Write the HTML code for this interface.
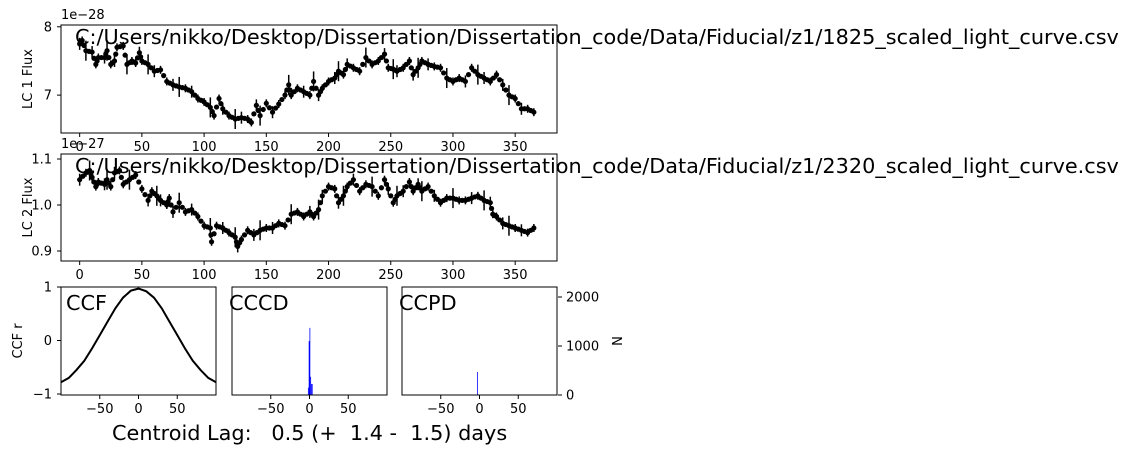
<!DOCTYPE html>
<html><head><meta charset="utf-8">
<style>
html,body{margin:0;padding:0;background:#fff;}
svg{display:block;font-family:"DejaVu Sans","Liberation Sans",sans-serif;}
</style></head>
<body>
<svg id="chart" width="1128" height="454" viewBox="0 0 1128 454" xmlns="http://www.w3.org/2000/svg"></svg>
<script>
// ---- data ----
const lc1Days = [0,2,5,10,13,15,20,22,25,28,30,35,38,42,45,48,50,55,60,65,70,75,80,85,90,95,100,105,108,112,115,120,125,130,135,138,142,145,150,155,160,165,168,170,175,180,185,188,192,195,200,205,208,212,215,220,225,230,235,240,245,248,252,255,260,265,268,272,275,280,285,290,295,300,305,310,315,320,325,330,335,340,345,350,355,360,365];
const lc1Flux = [7.75,7.8,7.65,7.63,7.45,7.55,7.55,7.65,7.45,7.5,7.7,7.72,7.45,7.5,7.47,7.62,7.5,7.45,7.35,7.37,7.2,7.15,7.12,7.1,7.05,6.95,6.9,6.82,6.7,6.95,6.8,6.7,6.65,6.67,6.65,6.6,6.85,6.7,6.88,6.75,6.87,7.0,7.15,7.0,7.1,7.05,7.0,7.2,7.0,7.1,7.2,7.25,7.35,7.3,7.45,7.4,7.35,7.55,7.45,7.5,7.6,7.4,7.38,7.35,7.4,7.5,7.3,7.4,7.5,7.45,7.42,7.4,7.25,7.2,7.25,7.2,7.4,7.3,7.25,7.2,7.3,7.15,7.0,6.95,6.8,6.8,6.75];
const lc2Days = [0,5,8,10,13,15,20,22,25,28,32,35,40,45,50,55,58,62,65,70,72,75,80,85,90,95,100,105,106,110,115,120,125,127,130,135,140,145,150,155,160,165,170,175,180,185,188,192,195,200,205,208,212,215,220,225,230,235,240,245,248,252,255,260,265,268,272,275,280,285,290,295,300,305,310,315,320,325,330,332,335,340,345,350,355,360,365];
const lc2Flux = [1.055,1.07,1.075,1.06,1.04,1.05,1.045,1.055,1.04,1.07,1.075,1.045,1.055,1.065,1.035,1.01,1.03,1.02,1.01,1.0,1.015,0.985,1.005,0.985,0.99,0.975,0.955,0.95,0.92,0.955,0.95,0.94,0.93,0.91,0.925,0.945,0.935,0.945,0.95,0.95,0.96,0.955,0.98,0.985,0.975,0.985,0.975,0.99,1.02,1.04,1.035,1.005,1.02,1.04,1.055,1.03,1.045,1.04,1.02,1.055,1.035,1.005,1.02,1.03,1.05,1.03,1.045,1.03,1.04,1.02,1.005,1.015,1.015,1.01,1.01,1.015,1.02,1.01,1.005,0.98,0.975,0.96,0.955,0.95,0.945,0.94,0.95];
const ccfLags = [-100,-90,-80,-70,-60,-50,-40,-30,-20,-10,0,10,20,30,40,50,60,70,80,90,100];
const ccfR = [-0.78,-0.7,-0.55,-0.38,-0.15,0.1,0.35,0.6,0.8,0.93,0.97,0.92,0.8,0.6,0.35,0.1,-0.15,-0.38,-0.55,-0.7,-0.78];
const cccdBins = [-2,-1,0,1,2,3];
const cccdCounts = [150,1100,1370,370,225,225];
const ccpdBins = [-3];
const ccpdCounts = [470];
const lcTicks = [0,50,100,150,200,250,300,350];
const lagTicks = [-50,0,50];

const svg = document.getElementById('chart');
const NS = 'http://www.w3.org/2000/svg';
function mk(tag, attrs, parent){ const e=document.createElementNS(NS,tag); for(const k in attrs) e.setAttribute(k,attrs[k]); (parent||svg).appendChild(e); return e; }
function txt(s, attrs, parent){ const e=mk('text',attrs,parent); e.textContent=s; return e; }
function lin(d0,d1,r0,r1){ return v => r0 + (v-d0)/(d1-d0)*(r1-r0); }

const lcX = lin(-15.0, 383.6, 61, 557);
function lcPanel(name, days, flux, top, bot, y, yticks, fmt, ylab, expo, path){
  const g = mk('g',{});
  
  
  mk('rect',{x:61,y:top,width:496,height:bot-top,fill:'#fff'},g);
  days.forEach((d,i)=>{
    const cx=lcX(d), cy=y(flux[i]);
    const err = (i%5===2)?10:(i%3===0?6:4);
    const eb = mk('line',{x1:cx,x2:cx,y1:cy-err,y2:cy+err,stroke:'#000','stroke-width':1.5},g);
    
    
    const p = mk('circle',{cx:cx,cy:cy,r:2.6,fill:'#000'},g);
    
    
    if(i<days.length-1){
      const nx=lcX(days[i+1]), ny=y(flux[i+1]);
      mk('circle',{cx:(cx+nx)/2,cy:(cy+ny)/2,r:2.6,fill:'#000'},g);
    }
  });
  mk('rect',{x:61,y:top,width:496,height:bot-top,fill:'none',stroke:'#000','stroke-width':1},g);
  yticks.forEach(t=>{
    const yy=y(t);
    mk('line',{x1:57,x2:61,y1:yy,y2:yy,stroke:'#000'},g);
    txt(fmt(t),{x:52,y:yy+4.5,'text-anchor':'end','font-size':13},g);
  });
  lcTicks.forEach(t=>{
    const xx=lcX(t);
    mk('line',{x1:xx,x2:xx,y1:bot,y2:bot+4,stroke:'#000'},g);
    txt(String(t),{x:xx,y:bot+18,'text-anchor':'middle','font-size':13},g);
  });
  const yl = txt(ylab,{x:0,y:0,'text-anchor':'middle','font-size':13,transform:`translate(32,${(top+bot)/2}) rotate(-90)`},g);
  
  
  txt(expo,{x:61,y:top-6,'font-size':13},g);
  const pt = txt(path,{x:75,y:top+19,'font-size':20.8},g);
  
  
}
lcPanel('lc1-panel', lc1Days, lc1Flux, 25, 133, lin(6.4455,8.0,133,26.8), [7,8], t=>String(t), 'LC 1 Flux', '1e\u221228',
  'C:/Users/nikko/Desktop/Dissertation/Dissertation_code/Data/Fiducial/z1/1825_scaled_light_curve.csv');
lcPanel('lc2-panel', lc2Days, lc2Flux, 154, 261, lin(0.9,1.1,251,159), [0.9,1.0,1.1], t=>t.toFixed(1), 'LC 2 Flux', '1e\u221227',
  'C:/Users/nikko/Desktop/Dissertation/Dissertation_code/Data/Fiducial/z1/2320_scaled_light_curve.csv');

const bTop=287, bBot=395;
function lagPanel(name, x0){
  const g = mk('g',{});
  
  
  mk('rect',{x:x0,y:bTop,width:155,height:bBot-bTop,fill:'#fff'},g);
  const x = lin(-100,100,x0,x0+155);
  return {g,x};
}
{
  const {g,x} = lagPanel('ccf-panel',61);
  const y = lin(-1,1,394,287);
  const d = ccfLags.map((l,i)=>(i?'L':'M')+x(l).toFixed(1)+','+y(ccfR[i]).toFixed(1)).join(' ');
  const p = mk('path',{d:d,fill:'none',stroke:'#000','stroke-width':2},g);
  
  
  [-1,0,1].forEach(t=>{ const yy=y(t); mk('line',{x1:57,x2:61,y1:yy,y2:yy,stroke:'#000'},g);
    txt(t<0?'\u22121':String(t),{x:52,y:yy+4.5,'text-anchor':'end','font-size':13},g); });
  lagTicks.forEach(t=>{ const xx=x(t); mk('line',{x1:xx,x2:xx,y1:bBot,y2:bBot+4,stroke:'#000'},g);
    txt(t<0?'\u2212'+(-t):String(t),{x:xx,y:bBot+18,'text-anchor':'middle','font-size':13},g); });
  mk('rect',{x:61,y:bTop,width:155,height:bBot-bTop,fill:'none',stroke:'#000'},g);
  txt('CCF',{x:66,y:310,'font-size':20.8},g);
  txt('CCF r',{x:0,y:0,'text-anchor':'middle','font-size':13,transform:'translate(22,341) rotate(-90)'},g);
}
const nY = lin(0,2000,395,297);
function histPanel(name,x0,title,bins,counts){
  const {g,x} = lagPanel(name,x0);
  bins.forEach((b,i)=>{
    const r = mk('rect',{x:x(b),y:nY(counts[i]),width:x(b+1)-x(b),height:nY(0)-nY(counts[i]),fill:'#0000ff'},g);
    
    
  });
  lagTicks.forEach(t=>{ const xx=x(t); mk('line',{x1:xx,x2:xx,y1:bBot,y2:bBot+4,stroke:'#000'},g);
    txt(t<0?'\u2212'+(-t):String(t),{x:xx,y:bBot+18,'text-anchor':'middle','font-size':13},g); });
  mk('rect',{x:x0,y:bTop,width:155,height:bBot-bTop,fill:'none',stroke:'#000'},g);
  txt(title,{x:x0-3,y:310,'font-size':20.8},g);
  return g;
}
histPanel('cccd-panel',232,'CCCD',cccdBins,cccdCounts);
const gp = histPanel('ccpd-panel',402,'CCPD',ccpdBins,ccpdCounts);
[0,1000,2000].forEach(t=>{ const yy=nY(t); mk('line',{x1:558,x2:562,y1:yy,y2:yy,stroke:'#000'},gp);
  txt(String(t),{x:566,y:yy+4.5,'font-size':13},gp); });
txt('N',{x:0,y:0,'text-anchor':'middle','font-size':13,transform:'translate(612,341) rotate(90)'},gp);

const cl = txt('Centroid Lag:   0.5 (+  1.4 -  1.5) days',{x:112,y:440,'font-size':20.8,style:'white-space:pre'});


</script>
</body></html>
